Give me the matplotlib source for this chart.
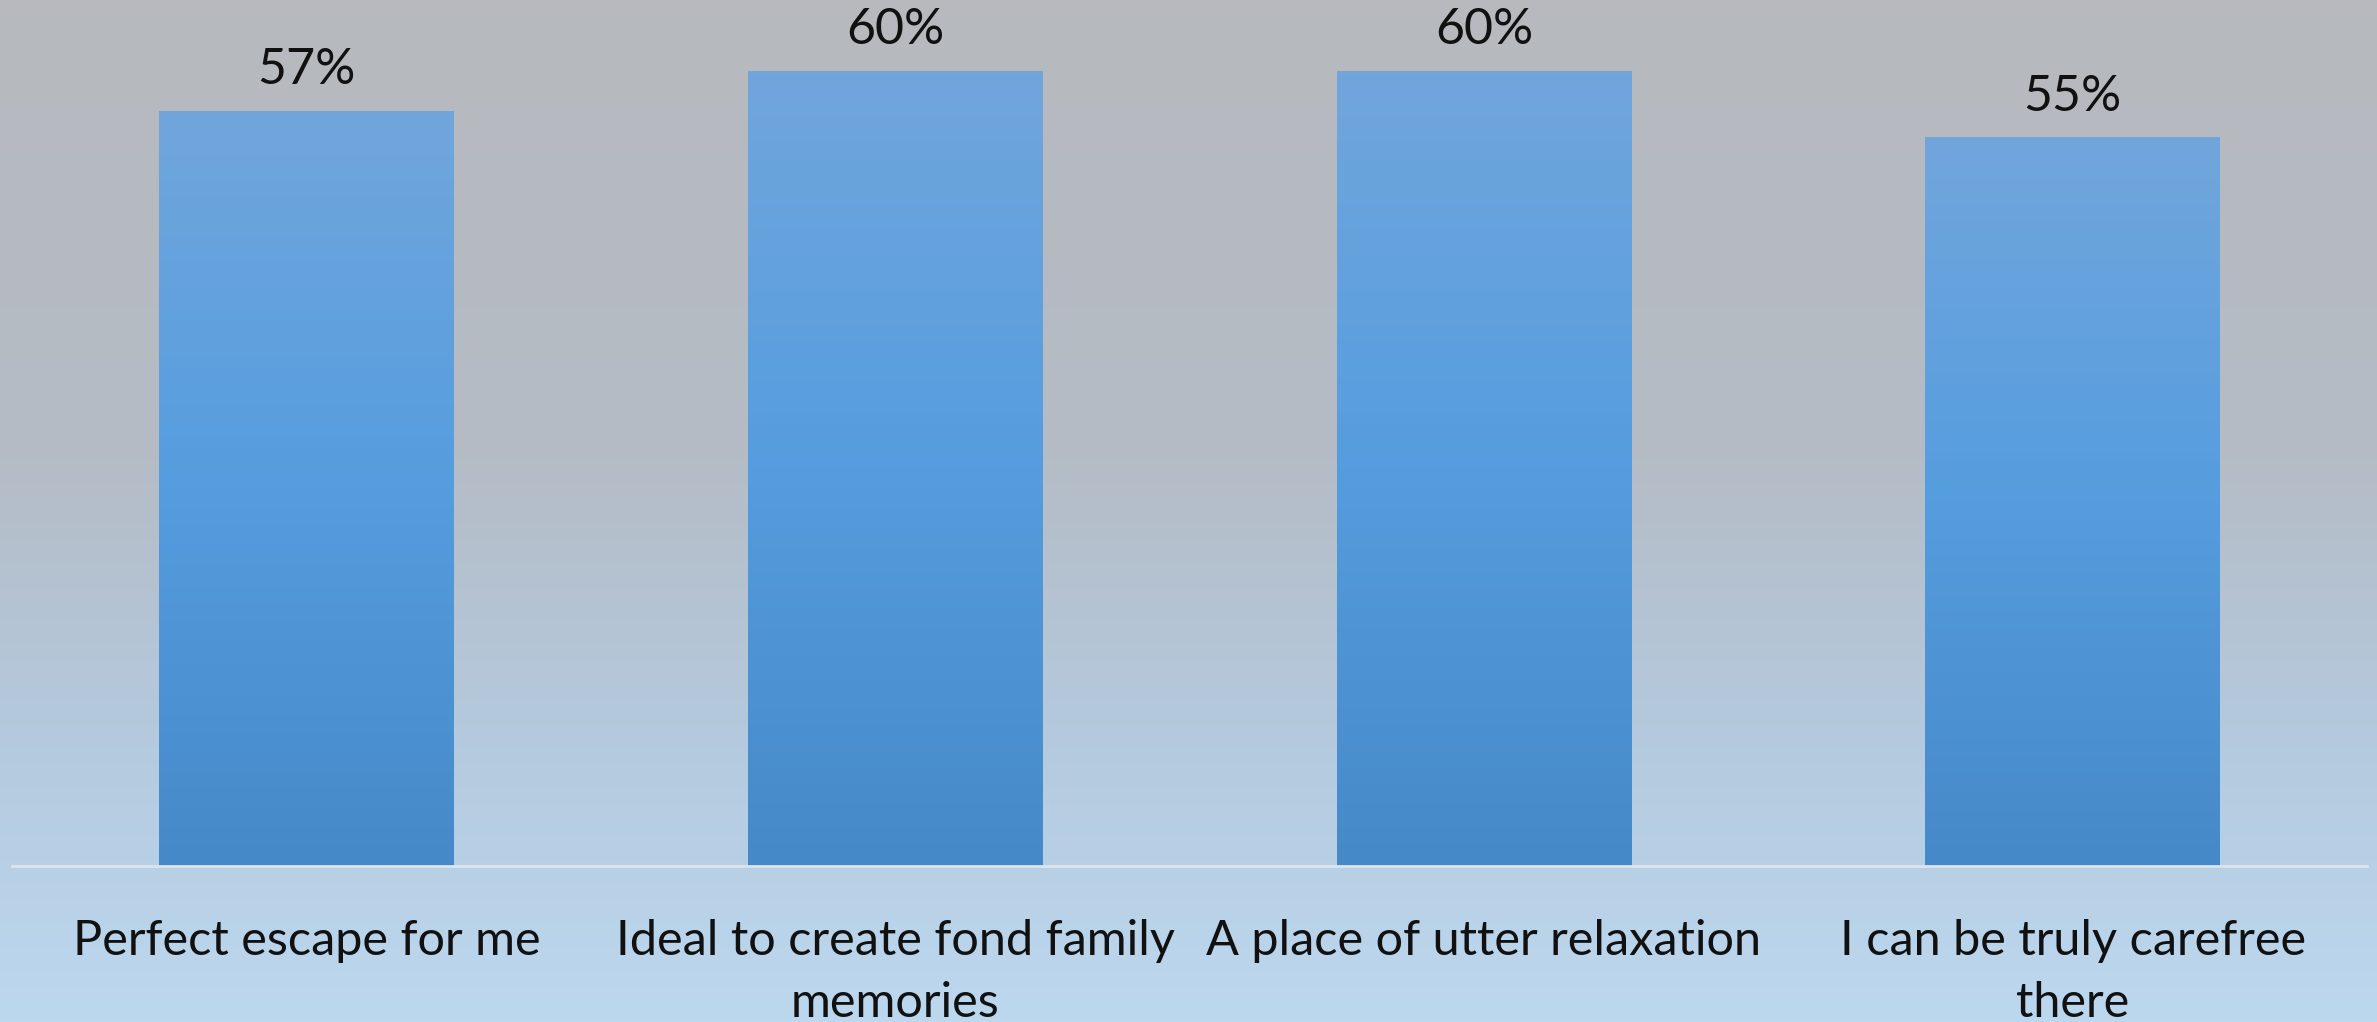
import matplotlib
matplotlib.use("Agg")
import matplotlib.pyplot as plt
import numpy as np
from matplotlib.colors import LinearSegmentedColormap

plt.rcParams['font.family'] = ['Lato', 'DejaVu Sans']

categories = [
    "Perfect escape for me",
    "Ideal to create fond family\nmemories",
    "A place of utter relaxation",
    "I can be truly carefree\nthere",
]
values = [57, 60, 60, 55]

fig = plt.figure(figsize=(23.77, 10.22), dpi=100)

# background gradient: grey at top, light blue at bottom
bg_cmap = LinearSegmentedColormap.from_list(
    "bg", [(0.0, "#B7B9BD"), (0.45, "#B4BCC6"), (0.75, "#B5CBE0"), (1.0, "#BCD8EF")])
bg = fig.add_axes([0, 0, 1, 1], zorder=0)
bg.imshow(np.linspace(0, 1, 256).reshape(-1, 1), cmap=bg_cmap, aspect="auto",
          extent=[0, 1, 0, 1], origin="upper")
bg.set_axis_off()

ax = fig.add_axes([12 / 2377, 1 - 866 / 1022, 2355 / 2377, 866 / 1022], zorder=1)
ax.patch.set_alpha(0)

x = np.arange(len(categories))
bars = ax.bar(x, values, width=0.5, color="none", edgecolor="none")

bar_cmap = LinearSegmentedColormap.from_list(
    "bar", [(0.0, "#71A6DC"), (0.5, "#559DDF"), (1.0, "#4689C8")])
grad = np.linspace(0, 1, 256).reshape(-1, 1)
for b in bars:
    x0, w, h = b.get_x(), b.get_width(), b.get_height()
    ax.imshow(grad, cmap=bar_cmap, aspect="auto", origin="upper",
              extent=[x0, x0 + w, 0, h], zorder=2)
    ax.annotate(f"{h:.0f}%", xy=(x0 + w / 2, h), xytext=(0, 13),
                textcoords="offset points", ha="center", va="bottom",
                fontsize=36, color="#111111")

ax.set_xlim(-0.5, len(categories) - 0.5)
ax.set_ylim(0, 65.4)
ax.set_yticks([])
ax.set_xticks(x)
ax.set_xticklabels(categories, fontsize=35, color="#111111", linespacing=1.5)
ax.tick_params(axis="x", length=0, pad=38)
for side in ["top", "right", "left"]:
    ax.spines[side].set_visible(False)
ax.spines["bottom"].set_color("#DCE4EC")
ax.spines["bottom"].set_linewidth(2)
ax.spines["bottom"].set_zorder(3)

fig.savefig("out.png", dpi=100)
